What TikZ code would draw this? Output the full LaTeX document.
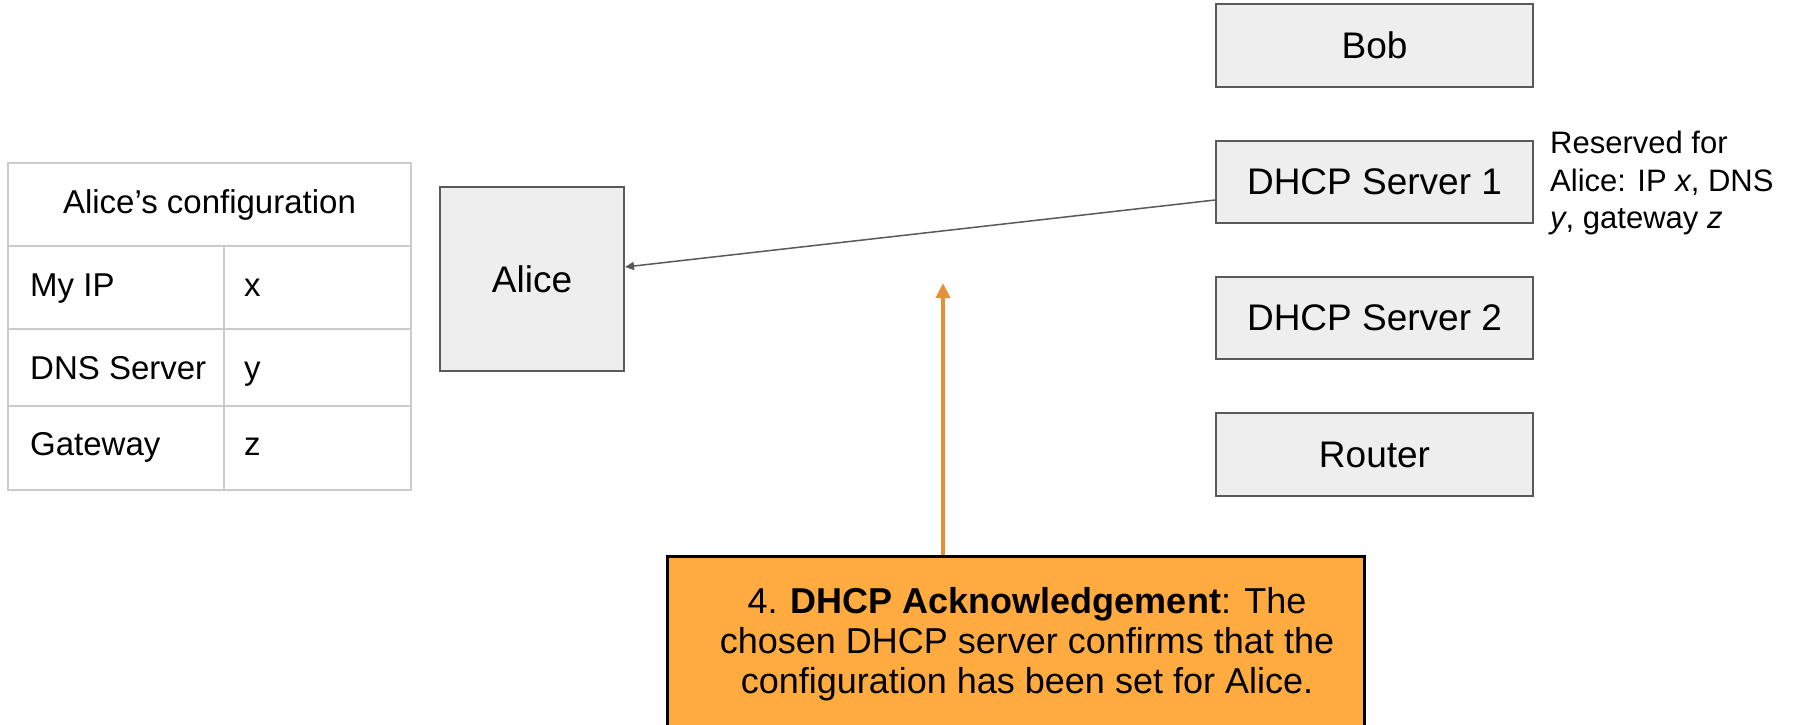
\documentclass[tikz,border=0pt]{standalone}
\usepackage{fontspec}
\setmainfont{Liberation Sans}
\usetikzlibrary{arrows.meta}
\definecolor{boxfill}{HTML}{EEEEEE}
\definecolor{boxline}{HTML}{595959}
\definecolor{tblline}{HTML}{CCCCCC}
\definecolor{ackfill}{HTML}{FFAB40}
\definecolor{ackarrow}{HTML}{E69138}
\tikzset{
  host/.style={draw=boxline, fill=boxfill, line width=2pt, inner sep=0pt,
    font=\fontsize{37}{42}\selectfont},
  tbltext/.style={font=\fontsize{33}{38}\selectfont, inner sep=0pt},
  tblrule/.style={draw=tblline, line width=2pt},
  msg/.style={draw=boxline, line width=1.5pt, -{Triangle[length=9pt,width=8pt]}},
  ackbox/.style={draw=black, fill=ackfill, line width=3pt, inner sep=0pt},
  acklink/.style={draw=ackarrow, line width=3.5pt, -{Triangle[length=15pt,width=14pt]}}
}
\begin{document}
\begin{tikzpicture}[x=1pt,y=-1pt]
\useasboundingbox (0,0) rectangle (1796,724);
% table
\draw[tblrule] (8,163) rectangle (411,490);
\draw[tblrule] (8,246) -- (411,246);
\draw[tblrule] (8,329) -- (411,329);
\draw[tblrule] (8,406) -- (411,406);
\draw[tblrule] (224,246) -- (224,490);
\node[tbltext, anchor=base] (thead) at (209.5,213) {Alice’s configuration};
\node[tbltext, anchor=base west] (tip) at (30,296) {My IP};
\node[tbltext, anchor=base west] (tdns) at (30,379) {DNS Server};
\node[tbltext, anchor=base west] (tgw) at (30,455) {Gateway};
\node[tbltext, anchor=base west] (vx) at (244,296) {x};
\node[tbltext, anchor=base west] (vy) at (244,379) {y};
\node[tbltext, anchor=base west] (vz) at (244,455) {z};
% hosts
\node[host, minimum width=184pt, minimum height=184pt] (alice) at (532,279) {Alice};
\node[host, minimum width=317pt, minimum height=83pt] (bob) at (1374.5,45.5) {Bob};
\node[host, minimum width=317pt, minimum height=82pt] (dhcp1) at (1374.5,182) {DHCP Server 1};
\node[host, minimum width=317pt, minimum height=82pt] (dhcp2) at (1374.5,318) {DHCP Server 2};
\node[host, minimum width=317pt, minimum height=83pt] (router) at (1374.5,454.5) {Router};
% reserved note
\node[anchor=base west, align=left, inner sep=0pt, font=\fontsize{31}{38}\selectfont] (note) at (1550,153)
  {Reserved for};
\node[anchor=base west, align=left, inner sep=0pt, font=\fontsize{31}{38}\selectfont] (note2) at (1550,191)
  {Alice: IP \textit{x}, DNS};
\node[anchor=base west, align=left, inner sep=0pt, font=\fontsize{31}{38}\selectfont] (note3) at (1550,228)
  {\textit{y}, gateway \textit{z}};
% message arrow
\draw[msg] (dhcp1.west |- 0,200) -- (alice.east |- 0,267);
% acknowledgement box
\node[ackbox, minimum width=697pt, minimum height=172pt, anchor=north west] (ack) at (666,555) {};
\node[align=center, inner sep=0pt, font=\fontsize{36}{40}\selectfont] (acktext) at (1027,644)
  {4. \textbf{DHCP Acknowledgement}: The\\chosen DHCP server confirms that the\\configuration has been set for Alice.};
\coordinate (acktip) at (943,283);
\draw[acklink] (acktip |- ack.north) -- (acktip);
\end{tikzpicture}
\end{document}
